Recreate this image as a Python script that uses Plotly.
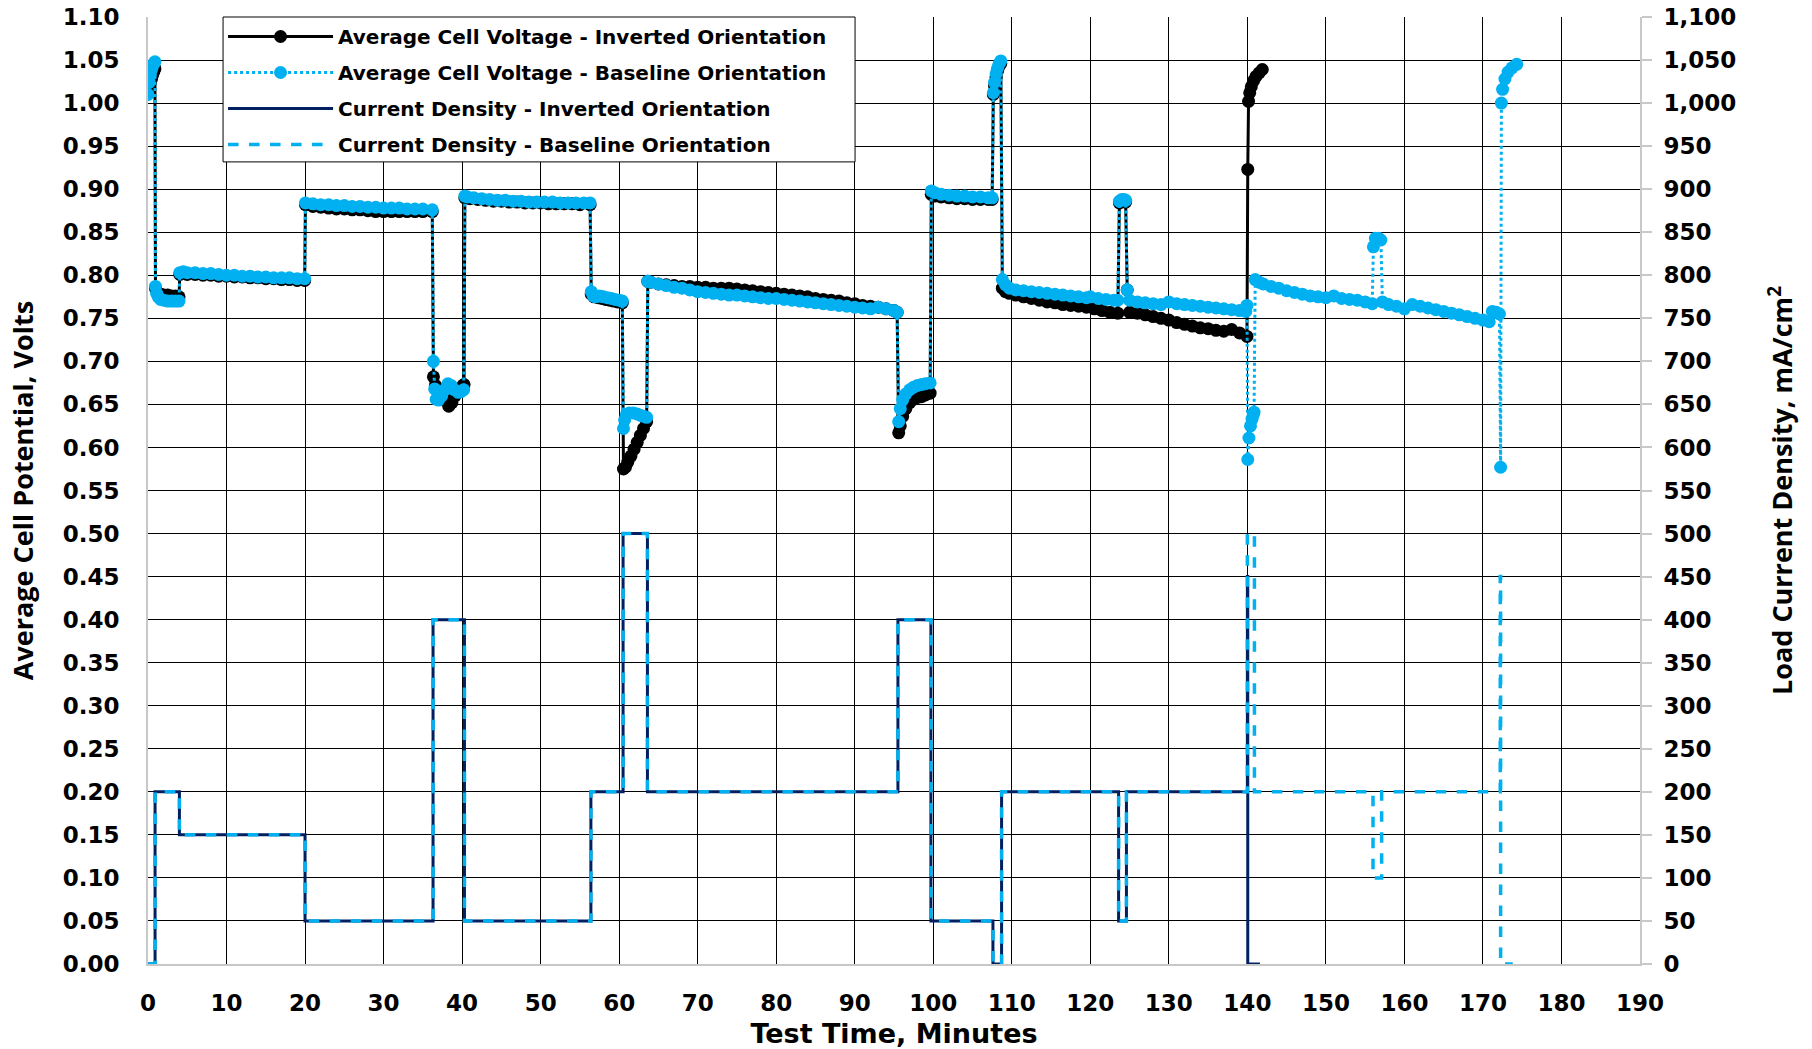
import plotly.graph_objects as go

# ---------------- data ----------------
# Average cell voltage, baseline orientation (minutes, volts)
t_base = [0.00, 0.15, 0.30, 0.45, 0.60, 0.75, 0.88,
          0.95, 1.1, 1.3, 1.6, 2.0, 2.5, 3.0, 3.5, 3.95,
          4.05, 4.5, 5, 6, 7, 8, 9, 10, 11, 12, 13, 14, 15, 16, 17, 18, 19, 19.95,
          20.05, 21, 22, 23, 24, 25, 26, 27, 28, 29, 30, 31, 32, 33, 34, 35, 36.2,
          36.35, 36.5, 36.7, 37.0, 37.4, 37.8, 38.2, 38.6, 39.0, 39.5, 39.9, 40.2,
          40.35, 40.7, 41.5, 42.5, 43.5, 44.5, 45.5, 46.5, 47.5, 48.5, 49.5, 50.5, 51.5, 52.5, 53.5, 54.5, 55.5, 56.3,
          56.45, 56.7, 57.0, 57.5, 58.0, 58.5, 59.0, 59.5, 60.0, 60.4,
          60.55, 60.7, 60.9, 61.3, 61.8, 62.3, 62.8, 63.2, 63.5,
          63.65, 64, 65, 66, 67, 68, 69, 70, 71, 72, 73, 74, 75, 76, 77, 78, 79, 80, 81, 82, 83, 84, 85,
          86, 87, 88, 89, 90, 91, 92, 93, 94, 95, 95.4,
          95.6, 95.8, 96.1, 96.5, 97.0, 97.5, 98.0, 98.5, 99.0, 99.6,
          99.75, 100.2, 101, 102, 103, 104, 105, 106, 107, 107.5,
          107.65, 107.8, 108.0, 108.2, 108.4, 108.6,
          108.8, 109.2, 109.7, 110.5, 111.5, 112.5, 113.5, 114.5, 115.5, 116.5, 117.5, 118.5, 119.5, 120, 121, 122, 123, 123.5,
          123.7, 124.0, 124.3, 124.5,
          124.7, 125.0, 126, 127, 128, 129, 130, 131, 132, 133, 134, 135, 136, 137, 138, 139, 139.8, 139.95,
          140.05, 140.2, 140.4, 140.6, 140.75, 140.85,
          141.0, 141.5, 142, 143, 144, 145, 146, 147, 148, 149, 150, 151, 152, 153, 154, 155, 155.9,
          156.05, 156.3, 156.7, 157.0,
          157.2, 158, 159, 160, 161, 162, 163, 164, 165, 166, 167, 168, 169, 170, 170.8, 171.2, 171.7, 172.1,
          172.25,
          172.35, 172.5, 172.8, 173.2, 173.7, 174.3]
v_base = [1.010, 1.024, 1.033, 1.039, 1.043, 1.046, 1.048,
          0.787, 0.779, 0.775, 0.772, 0.771, 0.770, 0.770, 0.770, 0.770,
          0.803, 0.804, 0.803, 0.803, 0.802, 0.802, 0.801, 0.800, 0.800, 0.799, 0.799, 0.798, 0.798, 0.797, 0.797, 0.797, 0.796, 0.796,
          0.884, 0.883, 0.882, 0.882, 0.881, 0.881, 0.880, 0.880, 0.879, 0.879, 0.878, 0.878, 0.878, 0.877, 0.877, 0.877, 0.876,
          0.700, 0.668, 0.656, 0.655, 0.660, 0.667, 0.674, 0.672, 0.667, 0.664, 0.665, 0.667,
          0.892, 0.891, 0.890, 0.889, 0.888, 0.887, 0.887, 0.886, 0.886, 0.885, 0.885, 0.885, 0.885, 0.884, 0.884, 0.884, 0.884, 0.884,
          0.781, 0.776, 0.775, 0.776, 0.775, 0.774, 0.773, 0.772, 0.771, 0.770,
          0.622, 0.632, 0.638, 0.640, 0.640, 0.639, 0.637, 0.636, 0.635,
          0.793, 0.792, 0.790, 0.788, 0.786, 0.785, 0.783, 0.781, 0.780, 0.779, 0.778, 0.777, 0.777, 0.776, 0.775, 0.774, 0.773, 0.773, 0.772, 0.771, 0.770, 0.769, 0.768,
          0.767, 0.766, 0.765, 0.764, 0.763, 0.762, 0.761, 0.763, 0.761, 0.759, 0.757,
          0.630, 0.645, 0.655, 0.662, 0.667, 0.670, 0.672, 0.673, 0.674, 0.675,
          0.898, 0.896, 0.894, 0.893, 0.892, 0.892, 0.891, 0.891, 0.890, 0.890,
          1.012, 1.024, 1.034, 1.041, 1.046, 1.049,
          0.795, 0.789, 0.785, 0.783, 0.782, 0.781, 0.780, 0.779, 0.778, 0.777, 0.776, 0.775, 0.774, 0.775, 0.773, 0.772, 0.771, 0.771,
          0.886, 0.888, 0.888, 0.887,
          0.783, 0.771, 0.769, 0.768, 0.767, 0.766, 0.769, 0.767, 0.766, 0.765, 0.764, 0.763, 0.762, 0.761, 0.760, 0.759, 0.758, 0.765,
          0.586, 0.611, 0.625, 0.633, 0.638, 0.641,
          0.795, 0.792, 0.790, 0.787, 0.785, 0.782, 0.780, 0.778, 0.776, 0.775, 0.774, 0.776, 0.773, 0.772, 0.771, 0.769, 0.767,
          0.833, 0.843, 0.843, 0.841,
          0.769, 0.766, 0.764, 0.761, 0.766, 0.764, 0.762, 0.760, 0.758, 0.756, 0.754, 0.752, 0.750, 0.748, 0.746, 0.758, 0.757, 0.755,
          0.577,
          1.000, 1.016, 1.028, 1.036, 1.041, 1.045]

# Average cell voltage, inverted orientation (minutes, volts)
t_inv = [0.00, 0.15, 0.30, 0.45, 0.60, 0.75, 0.88,
         0.95, 1.2, 1.6, 2.0, 2.5, 3.0, 3.5, 3.95,
         4.05, 5, 6, 7, 8, 9, 10, 11, 12, 13, 14, 15, 16, 17, 18, 19, 19.95,
         20.05, 21, 22, 23, 24, 25, 26, 27, 28, 29, 30, 31, 32, 33, 34, 35, 36.2,
         36.35, 36.6, 36.9, 37.3, 37.8, 38.3, 38.7, 39.1, 39.6, 40.1, 40.25,
         40.35, 41, 42, 43, 44, 45, 46, 47, 48, 49, 50, 51, 52, 53, 54, 55, 56.3,
         56.45, 56.8, 57.3, 57.8, 58.3, 58.8, 59.3, 59.8, 60.4,
         60.55, 60.8, 61.1, 61.5, 61.9, 62.3, 62.7, 63.1, 63.5,
         63.65, 64, 65, 66, 67, 68, 69, 70, 71, 72, 73, 74, 75, 76, 77, 78, 79, 80, 81, 82, 83, 84, 85,
         86, 87, 88, 89, 90, 91, 92, 93, 94, 95, 95.4,
         95.6, 95.8, 96.1, 96.5, 97.0, 97.5, 98.0, 98.5, 99.0, 99.6,
         99.75, 100.2, 101, 102, 103, 104, 105, 106, 107, 107.5,
         107.65, 107.8, 108.0, 108.2, 108.4, 108.6,
         108.8, 109.2, 109.7, 110.5, 111.5, 112.5, 113.5, 114.5, 115.5, 116.5, 117.5, 118.5, 119.5, 120.5, 121.5, 122.5, 123.5,
         123.7, 124.0, 124.3, 124.5,
         124.7, 125.0, 126, 127, 128, 129, 130, 131, 132, 133, 134, 135, 136, 137, 138, 139, 139.95,
         140.05, 140.15, 140.3, 140.5, 140.8, 141.1, 141.5, 141.9]
v_inv = [1.015, 1.020, 1.024, 1.028, 1.033, 1.037, 1.040,
         0.785, 0.780, 0.778, 0.777, 0.777, 0.776, 0.776, 0.775,
         0.801, 0.801, 0.801, 0.800, 0.800, 0.799, 0.799, 0.798, 0.798, 0.797, 0.797, 0.796, 0.796, 0.795, 0.795, 0.794, 0.794,
         0.882, 0.880, 0.879, 0.878, 0.877, 0.877, 0.876, 0.876, 0.875, 0.874, 0.874, 0.874, 0.874, 0.874, 0.874, 0.874, 0.874,
         0.682, 0.672, 0.665, 0.660, 0.655, 0.648, 0.652, 0.660, 0.668, 0.672, 0.673,
         0.890, 0.889, 0.888, 0.887, 0.886, 0.886, 0.885, 0.885, 0.884, 0.884, 0.884, 0.883, 0.883, 0.883, 0.883, 0.882, 0.882,
         0.778, 0.775, 0.774, 0.773, 0.772, 0.771, 0.770, 0.769, 0.768,
         0.575, 0.577, 0.583, 0.590, 0.598, 0.606, 0.614, 0.622, 0.630,
         0.793, 0.792, 0.790, 0.789, 0.788, 0.787, 0.787, 0.786, 0.786, 0.785, 0.785, 0.785, 0.784, 0.783, 0.782, 0.781, 0.780, 0.779, 0.778, 0.777, 0.776, 0.775, 0.773,
         0.772, 0.771, 0.770, 0.768, 0.767, 0.765, 0.764, 0.763, 0.761, 0.759, 0.757,
         0.617, 0.625, 0.636, 0.645, 0.652, 0.656, 0.658, 0.659, 0.661, 0.663,
         0.894, 0.892, 0.891, 0.890, 0.889, 0.889, 0.888, 0.888, 0.888, 0.888,
         1.010, 1.020, 1.030, 1.038, 1.043, 1.046,
         0.785, 0.781, 0.779, 0.777, 0.775, 0.773, 0.771, 0.769, 0.768, 0.766, 0.765, 0.764, 0.763, 0.761, 0.759, 0.757, 0.756,
         0.884, 0.886, 0.886, 0.885,
         0.783, 0.757, 0.756, 0.754, 0.752, 0.750, 0.748, 0.745, 0.743, 0.741, 0.739, 0.738, 0.736, 0.735, 0.737, 0.733, 0.729,
         0.923, 1.002, 1.012, 1.019, 1.026, 1.031, 1.035, 1.039]

# Load current density step changes (minutes, mA/cm^2), held until next change
t_cur_inv = [0, 0.9, 4.0, 20.0, 36.3, 40.3, 56.4, 60.5, 63.6, 95.5, 99.7, 107.6, 108.7,
             123.6, 124.6, 140.0, 140.05, 141.6]
i_cur_inv = [0, 200, 150, 50, 400, 50, 200, 500, 200, 400, 50, 0, 200,
             50, 200, 450, 0, 0]
t_cur_base = [0, 0.9, 4.0, 20.0, 36.3, 40.3, 56.4, 60.5, 63.6, 95.5, 99.7, 107.6, 108.7,
              123.6, 124.6, 140.0, 140.9, 156.0, 157.1, 172.2, 172.25, 173.8]
i_cur_base = [0, 200, 150, 50, 400, 50, 200, 500, 200, 400, 50, 0, 200,
              50, 200, 500, 200, 100, 200, 450, 0, 0]

series_names = ["Average Cell Voltage - Inverted Orientation",
                "Average Cell Voltage - Baseline Orientation",
                "Current Density - Inverted Orientation",
                "Current Density - Baseline Orientation"]

x_ticks = list(range(0, 191, 10))
v_ticks = [round(0.05 * k, 2) for k in range(0, 23)]
i_ticks = list(range(0, 1101, 50))

# ---------------- figure ----------------
BLACK = "#000000"
CYAN = "#00B0F0"
NAVY = "#002060"
WIDE = "DejaVu Sans"
NARROW = "Open Sans"
GRAY = "#c8c8c8"

fig = go.Figure()

fig.add_trace(go.Scatter(
    x=t_cur_inv, y=i_cur_inv, yaxis="y2", mode="lines", line_shape="hv",
    name=series_names[2], legendrank=3, legendgroup="c",
    line=dict(color=NAVY, width=3)))
fig.add_trace(go.Scatter(
    x=t_cur_base, y=i_cur_base, yaxis="y2", mode="lines", line_shape="hv",
    name=series_names[3], legendrank=4, legendgroup="d",
    line=dict(color=CYAN, width=3.5, dash="dash")))
fig.add_trace(go.Scatter(
    x=t_inv, y=v_inv, mode="lines+markers",
    name=series_names[0], legendrank=1, legendgroup="a",
    line=dict(color=BLACK, width=3),
    marker=dict(color=BLACK, size=13)))
fig.add_trace(go.Scatter(
    x=t_base, y=v_base, mode="lines+markers",
    name=series_names[1], legendrank=2, legendgroup="b",
    line=dict(color=CYAN, width=3, dash="dot"),
    marker=dict(color=CYAN, size=13)))

tickfont = dict(family=WIDE, size=23, color="#000000", weight="bold")
xtitlefont = dict(family=WIDE, size=27, color="#000000", weight="bold")
ytitlefont = dict(family=NARROW, size=27, color="#000000", weight="bold")

# legend frame (white box with black border behind the legend entries)
legend_frame = dict(type="rect", xref="paper", yref="paper",
                    x0=0.0503, x1=0.4739, y0=0.847, y1=1.0,
                    line=dict(color="#000000", width=1), fillcolor="white",
                    layer="above")

fig.update_layout(
    width=1812, height=1049,
    margin=dict(l=148, r=172, t=17, b=85, autoexpand=False),
    paper_bgcolor="white", plot_bgcolor="white",
    showlegend=True,
    shapes=[legend_frame],
    legend=dict(
        x=0.0503, y=1.0, xanchor="left", yanchor="top",
        bgcolor="rgba(0,0,0,0)", borderwidth=0,
        font=dict(family=WIDE, size=20, color="#000000", weight="bold"),
        tracegroupgap=7, itemwidth=105,
    ),
    xaxis=dict(
        range=[0, 190], tickmode="array", tickvals=x_ticks,
        showgrid=True, gridcolor="#000000", gridwidth=1.3,
        showline=True, linecolor=GRAY, linewidth=2, mirror=False,
        zeroline=False, ticks="", ticklabelstandoff=17, automargin=False,
        tickfont=tickfont,
        title=dict(text="Test Time, Minutes", font=xtitlefont, standoff=10),
    ),
    yaxis=dict(
        range=[0, 1.1], tickmode="array", tickvals=v_ticks,
        ticktext=[f"{v:.2f}" for v in v_ticks],
        showgrid=True, gridcolor="#000000", gridwidth=1.3,
        showline=True, linecolor=GRAY, linewidth=2,
        zeroline=False, ticks="", ticklabelstandoff=22, automargin=False,
        tickfont=tickfont,
        title=dict(text="Average Cell Potential, Volts", font=ytitlefont, standoff=21),
    ),
    yaxis2=dict(
        range=[0, 1100], tickmode="array", tickvals=i_ticks,
        ticktext=[f"{v:,d}" for v in i_ticks],
        overlaying="y", side="right", showgrid=False,
        showline=True, linecolor=GRAY, linewidth=2,
        zeroline=False, ticks="outside", ticklen=10, tickwidth=1.5, tickcolor=GRAY,
        ticklabelstandoff=7, automargin=False,
        tickfont=tickfont,
        title=dict(text="Load Current Density, mA/cm<sup>2</sup>", font=ytitlefont, standoff=38),
    ),
)

fig.write_html("out.html")
